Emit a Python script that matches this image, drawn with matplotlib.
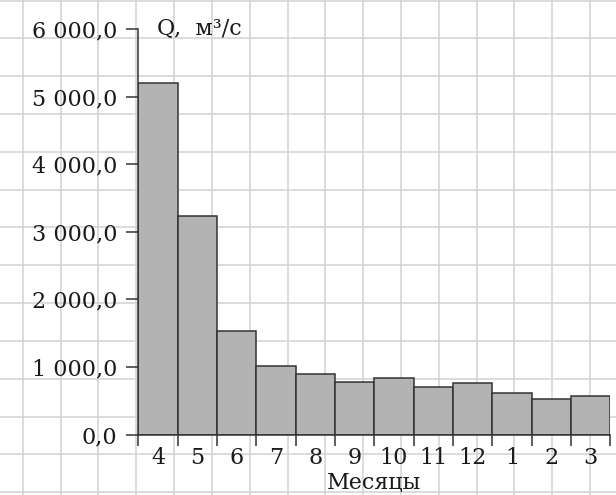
import numpy as np
import matplotlib
matplotlib.use("Agg")
import matplotlib.pyplot as plt

# data
months = ["4", "5", "6", "7", "8", "9", "10", "11", "12", "1", "2", "3"]
flow = [5200, 3230, 1530, 1020, 900, 770, 830, 700, 760, 620, 530, 570]
y_ticks = [0, 1000, 2000, 3000, 4000, 5000, 6000]
y_labels = ["0,0", "1 000,0", "2 000,0", "3 000,0", "4 000,0", "5 000,0", "6 000,0"]

plt.rcParams['font.family'] = ['DejaVu Serif']
fs = 16
txt_color = '#1a1a1a'

W, H = 616, 495
fig = plt.figure(figsize=(W / 100, H / 100), dpi=100)
fig.patch.set_facecolor('white')

# graph-paper background
bg = fig.add_axes([0, 0, 1, 1], zorder=0)
bg.set_xlim(0, W)
bg.set_ylim(H, 0)
bg.axis('off')
step = 37.83
for gx in np.arange(22.7, W, step):
	bg.axvline(gx, color='#d2d2d2', lw=1.1)
for gy in np.arange(0.5, H, step):
	bg.axhline(gy, color='#d2d2d2', lw=1.1)

# main axes
left, right = 138.3, 610.3
top, bottom = 29.3, 434.5
ax = fig.add_axes([left / W, (H - bottom) / H, (right - left) / W, (bottom - top) / H], zorder=1)
ax.set_facecolor('none')

x = np.arange(len(months))
ax.bar(x + 0.5, flow, width=1.0, color='#b3b3b3', edgecolor='#333333', linewidth=1.1, zorder=2)

ax.set_xlim(0, len(months))
ax.set_ylim(0, 6000)

for s in ['top', 'right']:
	ax.spines[s].set_visible(False)
for s in ['left', 'bottom']:
	ax.spines[s].set_color('#333333')
	ax.spines[s].set_linewidth(1.1)

ax.set_yticks(y_ticks)
ax.set_yticklabels(y_labels, fontsize=fs, color=txt_color)
ax.tick_params(axis='y', length=9, width=1.1, color='#333333', pad=6)

ax.set_xticks(x + 0.5)
ax.set_xticklabels(months, fontsize=fs, color=txt_color)
ax.set_xticks(np.arange(len(months) + 1), minor=True)
ax.tick_params(axis='x', which='major', length=0, pad=9)
ax.tick_params(axis='x', which='minor', length=8, width=1.1, color='#333333')

ax.set_xlabel("Месяцы", fontsize=fs, color=txt_color, labelpad=2)
ax.text(0.47, 6000, "Q,  м³/с", fontsize=fs, color=txt_color, va='center', ha='left', clip_on=False)

fig.savefig("out.png", dpi=100)
